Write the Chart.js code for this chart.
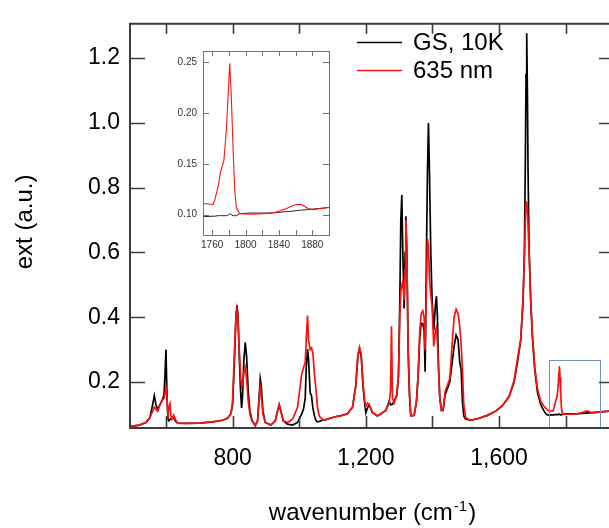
<!DOCTYPE html>
<html>
<head>
<meta charset="utf-8">
<script src="https://cdn.jsdelivr.net/npm/chart.js@4.4.1/dist/chart.umd.min.js"></script>
<style>
  html, body { margin: 0; padding: 0; background: #fff; overflow: hidden; }
  #wrap { position: relative; width: 609px; height: 528px; }
  #main { position: absolute; left: 0; top: 0; }
  #inset { position: absolute; left: 160px; top: 30px; }
</style>
</head>
<body>
<div id="wrap">
  <canvas id="main" width="609" height="528"></canvas>
  <canvas id="inset" width="180" height="230"></canvas>
</div>
<script>
// ---------------- DATA ----------------
const seriesNames = ['GS, 10K', '635 nm'];
const wavenumber = [
  495, 520, 540, 552, 560, 565, 570, 575, 582, 588, 594, 597, 600, 603, 606, 609, 612, 615, 618, 623, 628, 635,
  660, 700, 740, 770, 785, 795, 800, 805, 810, 813, 816, 820, 824, 827, 830, 834, 838, 842, 847, 852, 858, 868,
  875, 880, 883, 886, 891, 898, 915, 928, 935, 940, 945, 952, 965, 980, 995, 1002, 1007, 1013, 1018, 1021, 1025,
  1028, 1033, 1037, 1041, 1046, 1050, 1055, 1060, 1070, 1080, 1105, 1125, 1145, 1160, 1170, 1176, 1181, 1186,
  1192, 1197, 1200, 1205, 1210, 1220, 1235, 1260, 1270, 1274, 1277, 1280, 1285, 1293, 1298, 1302, 1305, 1308,
  1311, 1315, 1318, 1320, 1323, 1327, 1331, 1335, 1345, 1352, 1357, 1362, 1366, 1371, 1375, 1378, 1382, 1385,
  1388, 1391, 1395, 1399, 1404, 1409, 1412, 1415, 1418, 1422, 1427, 1432, 1438, 1445, 1452, 1458, 1465, 1471,
  1477, 1482, 1486, 1490, 1494, 1500, 1515, 1540, 1565, 1590, 1610, 1630, 1645, 1655, 1665, 1672, 1676, 1679,
  1681, 1683, 1685, 1687, 1690, 1695, 1700, 1707, 1715, 1725, 1735, 1742, 1749, 1761, 1763, 1767, 1770, 1774,
  1777, 1780, 1781, 1783, 1785, 1787, 1789, 1793, 1805, 1817, 1829, 1837, 1849, 1857, 1861, 1867, 1875, 1881,
  1899, 1930
];
const gs10K = [
  0.063, 0.067, 0.075, 0.090, 0.130, 0.158, 0.130, 0.115, 0.130, 0.142, 0.160, 0.220, 0.300, 0.160, 0.085, 0.080, 0.085, 0.085, 0.088, 0.090, 0.080, 0.073,
  0.072, 0.073, 0.077, 0.082, 0.088, 0.102, 0.130, 0.250, 0.400, 0.437, 0.410, 0.280, 0.170, 0.120, 0.160, 0.270, 0.322, 0.280, 0.170, 0.110, 0.082, 0.065,
  0.080, 0.160, 0.210, 0.190, 0.110, 0.075, 0.067, 0.080, 0.110, 0.130, 0.110, 0.080, 0.070, 0.067, 0.075, 0.090, 0.100, 0.117, 0.150, 0.240, 0.302,
  0.270, 0.167, 0.157, 0.120, 0.095, 0.082, 0.077, 0.078, 0.082, 0.084, 0.092, 0.096, 0.102, 0.122, 0.190, 0.280, 0.305, 0.280,
  0.180, 0.130, 0.105, 0.120, 0.130, 0.105, 0.095, 0.112, 0.140, 0.130, 0.130, 0.132, 0.140, 0.160, 0.220, 0.450, 0.700, 0.777,
  0.600, 0.427, 0.600, 0.712, 0.600, 0.300, 0.160, 0.095, 0.097, 0.140, 0.220, 0.340, 0.380, 0.380, 0.360, 0.232, 0.600, 0.850,
  1.000, 0.850, 0.600, 0.450, 0.360, 0.440, 0.465, 0.400, 0.250, 0.150, 0.112, 0.112, 0.160, 0.180, 0.200, 0.250, 0.310, 0.345,
  0.330, 0.260, 0.240, 0.140, 0.095, 0.085, 0.082, 0.088, 0.097, 0.110, 0.127, 0.155, 0.200, 0.260, 0.330, 0.450, 0.600, 0.900,
  1.150, 1.277, 1.100, 0.850, 0.620, 0.450, 0.340, 0.240, 0.170, 0.130, 0.110, 0.100, 0.098, 0.0985, 0.0985, 0.099, 0.099, 0.099,
  0.099, 0.100, 0.101, 0.100, 0.099, 0.099, 0.099, 0.101, 0.1016, 0.1016, 0.1016, 0.102, 0.103, 0.1035, 0.104, 0.1045, 0.105, 0.1055,
  0.107, 0.110
];
const nm635 = [
  0.063, 0.067, 0.075, 0.090, 0.110, 0.122, 0.115, 0.110, 0.130, 0.142, 0.150, 0.165, 0.190, 0.150, 0.100, 0.120, 0.132, 0.095, 0.085, 0.098, 0.085, 0.073,
  0.072, 0.073, 0.077, 0.082, 0.088, 0.102, 0.140, 0.280, 0.400, 0.425, 0.400, 0.300, 0.220, 0.185, 0.190, 0.230, 0.245, 0.210, 0.140, 0.100, 0.080, 0.065,
  0.080, 0.150, 0.185, 0.160, 0.100, 0.075, 0.067, 0.080, 0.110, 0.130, 0.110, 0.080, 0.075, 0.085, 0.122, 0.180, 0.222, 0.245, 0.260, 0.330, 0.405,
  0.330, 0.300, 0.305, 0.290, 0.220, 0.180, 0.120, 0.095, 0.084, 0.084, 0.092, 0.096, 0.102, 0.122, 0.190, 0.280, 0.305, 0.290,
  0.190, 0.140, 0.125, 0.135, 0.130, 0.107, 0.095, 0.112, 0.135, 0.170, 0.372, 0.150, 0.135, 0.160, 0.220, 0.400, 0.480, 0.500,
  0.510, 0.452, 0.550, 0.700, 0.620, 0.300, 0.170, 0.095, 0.097, 0.140, 0.220, 0.360, 0.410, 0.420, 0.400, 0.300, 0.500, 0.642,
  0.620, 0.520, 0.470, 0.430, 0.310, 0.360, 0.370, 0.320, 0.250, 0.150, 0.112, 0.115, 0.170, 0.190, 0.210, 0.300, 0.400, 0.425,
  0.410, 0.370, 0.320, 0.240, 0.130, 0.090, 0.082, 0.088, 0.097, 0.110, 0.127, 0.155, 0.205, 0.270, 0.330, 0.460, 0.580, 0.700,
  0.740, 0.757, 0.740, 0.680, 0.600, 0.450, 0.350, 0.250, 0.180, 0.140, 0.125, 0.117, 0.111, 0.110, 0.114, 0.127, 0.142, 0.153,
  0.183, 0.232, 0.249, 0.215, 0.166, 0.124, 0.107, 0.101, 0.1005, 0.1006, 0.1015, 0.1026, 0.106, 0.109, 0.110, 0.110, 0.106, 0.105,
  0.107, 0.110
];
const xTickValues = [600, 800, 1000, 1200, 1400, 1600, 1800];
const xLabelValues = [800, 1200, 1600];
const yTickValues = [0.2, 0.4, 0.6, 0.8, 1.0, 1.2];
const xRange = [492, 1930];
const yRange = [0.058, 1.306];
const zoomBoxX = [1750, 1903];
const zoomBoxY = [0.06, 0.267];
const insetXRange = [1749, 1900];
const insetYRange = [0.08, 0.261];
const insetXTicks = [1760, 1780, 1800, 1820, 1840, 1860, 1880, 1900];
const insetXLabels = [1760, 1800, 1840, 1880];
const insetYTicks = [0.10, 0.15, 0.20, 0.25];
const xTitle = ['wavenumber (cm', '-1', ')'];
const yTitle = 'ext (a.u.)';

// ---------------- HELPERS ----------------
const FONT = "'Liberation Sans', Arial, sans-serif";
const BLACK = '#000000';
const RED = '#ff1010';
function pts(ys) { return wavenumber.map((w, i) => ({ x: w, y: ys[i] })); }

// ---------------- MAIN CHART ----------------
const mainDecor = {
  id: 'mainDecor',
  afterDraw(chart) {
    const { ctx, chartArea: a, scales: { x, y } } = chart;
    ctx.save();
    // zoom box
    ctx.strokeStyle = '#6f92ba';
    ctx.lineWidth = 1;
    const bx0 = x.getPixelForValue(zoomBoxX[0]), bx1 = x.getPixelForValue(zoomBoxX[1]);
    const by0 = y.getPixelForValue(zoomBoxY[0]), by1 = y.getPixelForValue(zoomBoxY[1]);
    ctx.strokeRect(Math.round(bx0) + 0.5, Math.round(by1) + 0.5, Math.round(bx1 - bx0), Math.round(by0 - by1));
    // frame
    ctx.strokeStyle = '#3c3c3c';
    ctx.lineWidth = 2;
    ctx.beginPath();
    ctx.moveTo(a.left, a.top); ctx.lineTo(a.right + 2, a.top);
    ctx.moveTo(a.left, a.top - 1); ctx.lineTo(a.left, a.bottom + 1);
    ctx.moveTo(a.left - 1, a.bottom); ctx.lineTo(a.right + 2, a.bottom);
    ctx.stroke();
    // ticks
    ctx.lineWidth = 1.6;
    ctx.beginPath();
    xTickValues.forEach(v => {
      const px = Math.round(x.getPixelForValue(v)) + 0.5;
      ctx.moveTo(px, a.bottom); ctx.lineTo(px, a.bottom - 12);
      ctx.moveTo(px, a.top); ctx.lineTo(px, a.top + 10);
    });
    yTickValues.forEach(v => {
      const py = Math.round(y.getPixelForValue(v)) + 0.5;
      ctx.moveTo(a.left, py); ctx.lineTo(a.left + 15, py);
      ctx.moveTo(a.right, py); ctx.lineTo(a.right - 10, py);
    });
    ctx.stroke();
    // legend
    const legendColors = [BLACK, RED];
    ctx.font = '24px ' + FONT;
    ctx.textBaseline = 'middle';
    ctx.textAlign = 'left';
    seriesNames.forEach((name, i) => {
      const ly = 42 + i * 28;
      ctx.strokeStyle = legendColors[i];
      ctx.lineWidth = 1.5;
      ctx.beginPath(); ctx.moveTo(357, ly + 0.5); ctx.lineTo(402, ly + 0.5); ctx.stroke();
      ctx.fillStyle = '#000';
      ctx.fillText(name, 413, ly + 1);
    });
    // y title
    ctx.save();
    ctx.translate(25, (a.top + a.bottom) / 2 - 4);
    ctx.rotate(-Math.PI / 2);
    ctx.textAlign = 'center';
    ctx.textBaseline = 'middle';
    ctx.font = '24px ' + FONT;
    ctx.fillText(yTitle, 0, 0);
    ctx.restore();
    // x title with superscript
    ctx.textBaseline = 'alphabetic';
    ctx.textAlign = 'left';
    const big = '24px ' + FONT, small = '15px ' + FONT;
    ctx.font = big; const w0 = ctx.measureText(xTitle[0]).width; const w2 = ctx.measureText(xTitle[2]).width;
    ctx.font = small; const w1 = ctx.measureText(xTitle[1]).width;
    const total = w0 + w1 + w2 + 2;
    let sx = (a.left + a.right) / 2 + 3 - total / 2;
    const base = 520;
    ctx.font = big; ctx.fillText(xTitle[0], sx, base); sx += w0 + 1;
    ctx.font = small; ctx.fillText(xTitle[1], sx, base - 9); sx += w1 + 1;
    ctx.font = big; ctx.fillText(xTitle[2], sx, base);
    ctx.restore();
  }
};

new Chart(document.getElementById('main'), {
  type: 'line',
  data: {
    datasets: [
      { label: seriesNames[1], data: pts(nm635), borderColor: RED, borderWidth: 1.7, pointRadius: 0, tension: 0, order: 0 },
      { label: seriesNames[0], data: pts(gs10K), borderColor: BLACK, borderWidth: 1.7, pointRadius: 0, tension: 0, order: 1 }
    ]
  },
  options: {
    responsive: false,
    animation: false,
    devicePixelRatio: 1,
    layout: { padding: { top: 12, right: 0, left: 0, bottom: 0 } },
    plugins: { legend: { display: false }, tooltip: { enabled: false } },
    scales: {
      x: {
        type: 'linear', min: xRange[0], max: xRange[1],
        grid: { display: false, drawTicks: false, tickLength: 0 }, border: { display: false },
        afterBuildTicks: s => { s.ticks = xLabelValues.map(v => ({ value: v })); },
        afterFit: s => { s.height = 100; },
        ticks: { font: { family: FONT, size: 23 }, color: '#000', padding: 17, maxRotation: 0, autoSkip: false }
      },
      y: {
        type: 'linear', min: yRange[0], max: yRange[1],
        grid: { display: false, drawTicks: false, tickLength: 0 }, border: { display: false },
        afterBuildTicks: s => { s.ticks = yTickValues.map(v => ({ value: v })); },
        afterFit: s => { s.width = 130; },
        ticks: { font: { family: FONT, size: 23 }, color: '#000', padding: 10, callback: v => v.toFixed(1) }
      }
    }
  },
  plugins: [mainDecor]
});

// ---------------- INSET CHART ----------------
const insetDecor = {
  id: 'insetDecor',
  afterDraw(chart) {
    const { ctx, chartArea: a, scales: { x, y } } = chart;
    ctx.save();
    ctx.strokeStyle = '#707070';
    ctx.lineWidth = 1;
    ctx.strokeRect(Math.round(a.left) + 0.5, Math.round(a.top) + 0.5, Math.round(a.right - a.left), Math.round(a.bottom - a.top));
    ctx.beginPath();
    insetXTicks.forEach(v => {
      const px = Math.round(x.getPixelForValue(v)) + 0.5;
      ctx.moveTo(px, a.bottom); ctx.lineTo(px, a.bottom - 5);
      ctx.moveTo(px, a.top); ctx.lineTo(px, a.top + 5);
    });
    insetYTicks.forEach(v => {
      const py = Math.round(y.getPixelForValue(v)) + 0.5;
      ctx.moveTo(a.left, py); ctx.lineTo(a.left + 6, py);
      ctx.moveTo(a.right, py); ctx.lineTo(a.right - 6, py);
    });
    ctx.stroke();
    ctx.restore();
  }
};

new Chart(document.getElementById('inset'), {
  type: 'line',
  data: {
    datasets: [
      { label: seriesNames[1], data: pts(nm635), borderColor: RED, borderWidth: 1.1, pointRadius: 0, tension: 0, order: 0 },
      { label: seriesNames[0], data: pts(gs10K), borderColor: '#222', borderWidth: 1, pointRadius: 0, tension: 0, order: 1 }
    ]
  },
  options: {
    responsive: false,
    animation: false,
    devicePixelRatio: 1,
    layout: { padding: { top: 21, right: 11, left: 0, bottom: 0 } },
    plugins: { legend: { display: false }, tooltip: { enabled: false } },
    scales: {
      x: {
        type: 'linear', min: insetXRange[0], max: insetXRange[1],
        grid: { display: false, drawTicks: false, tickLength: 0 }, border: { display: false },
        afterBuildTicks: s => { s.ticks = insetXLabels.map(v => ({ value: v })); },
        afterFit: s => { s.height = 25; },
        ticks: { font: { family: FONT, size: 10 }, color: '#333', padding: 4, maxRotation: 0, autoSkip: false, callback: v => String(v) }
      },
      y: {
        type: 'linear', min: insetYRange[0], max: insetYRange[1],
        grid: { display: false, drawTicks: false, tickLength: 0 }, border: { display: false },
        afterBuildTicks: s => { s.ticks = insetYTicks.map(v => ({ value: v })); },
        afterFit: s => { s.width = 43; },
        ticks: { font: { family: FONT, size: 10 }, color: '#333', padding: 6, callback: v => v.toFixed(2) }
      }
    }
  },
  plugins: [insetDecor]
});
</script>
</body>
</html>
